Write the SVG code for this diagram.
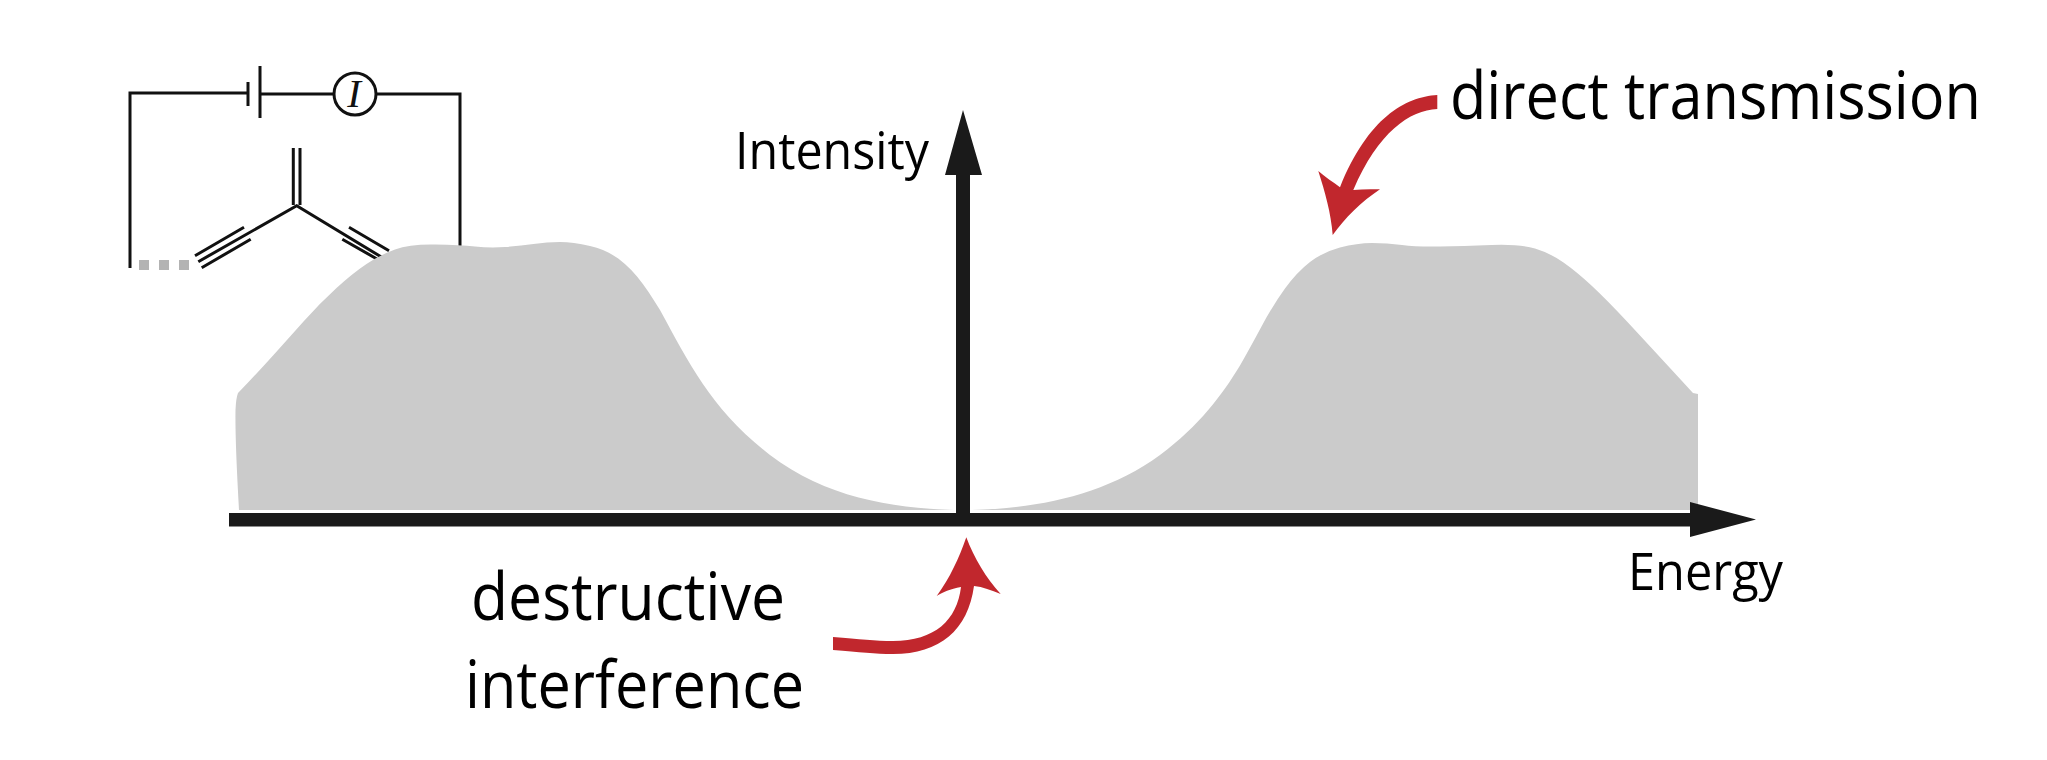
<svg xmlns="http://www.w3.org/2000/svg" width="2047" height="760" viewBox="0 0 2047 760">
<style>
.t{font-family:"Open Sans","Noto Sans",sans-serif;fill:#000}
.big{font-size:65px}
.small{font-size:51px}
.w{fill:none;stroke:#111;stroke-width:3}
.g{fill:#cbcbcb}
.r{fill:#c1272d}
.k{fill:#1a1a1a}
</style>
<rect width="2047" height="760" fill="#fff"/>
<g id="circuit">
<path class="w" d="M130 268V93H248M248 82V106M260 66V118M261 94H334M376 94H460V250"/>
<circle class="w" cx="355" cy="94" r="21"/>
<text x="354" y="107" text-anchor="middle" style="font-family:'Liberation Serif',serif;font-style:italic;font-size:41px;fill:#111">I</text>
<path fill="#b3b3b3" d="M139 260h10v10h-10zM159 260h10v10h-10zM179 260h10v10h-10z"/>
<path class="w" d="M195 255.700L244 227.300M201.700 267.700L250.700 239.300M198.300 261.700L296.700 205.700L383 258M349 227.300L389 250.700M342.300 239.300L377 259M293.300 148V205M300 148V205"/>
</g>
<g id="peak-left">
<path class="g" d="M238 393L249 381.500Q260 370 273.500 355Q287 340 303.500 321.500Q320 303 336.500 288Q353 273 366.500 264Q380 255 395 249.500Q410 244 435 244.500Q460 245 475 246.500Q490 248 505 247Q520 246 533.500 244Q547 242 560 242Q573 242 590 246C622 253 640 277 660 310C690 365 712 410 770 455C825 497 890 508 954 510H239Q235 440 235.500 410Q236 398 238 393Z"/>
</g>
<g id="peak-right">
<path class="g" d="M972 510C1040 508 1105 495 1160 455C1200 425 1222 395 1240 365.500Q1250 348 1261.500 326.500Q1273 305 1285 288.500Q1297 272 1310 262Q1323 252 1340 247.500Q1357 243 1372 243Q1387 243 1402 245Q1417 247 1440 246.500Q1463 246 1491.500 245Q1520 244 1535 248.500Q1550 253 1563.500 262.500Q1577 272 1592 286Q1607 300 1627 321.500Q1647 343 1693 393L1698 394V510Z"/>
</g>
<g id="connectors">
<path class="k" d="M229 513H1690V502L1756 519.500L1690 537V526.500H229Z"/>
<path class="k" d="M956 513V175H945L963 110L982 175H970V513Z"/>
<path class="r" d="M833 637C860 639 875 641 893 641C935 641 957 620 961 587C950 589 943 592 936.700 596C950 578 959 558 966.300 537.300C974 558 986 578 1000.700 594C991 590 983 587 974 586C968 630 940 654 893 654C875 654 860 652 833 650Z"/>
<path class="r" d="M1437.300 95C1405 97 1368 118 1340 187.300C1333 182 1325 177 1318.300 171C1325 192 1331 213 1332.700 235C1345 218 1361 202 1380 189.300C1371 189 1362 189 1353.300 190C1378 132 1410 110 1437.300 109Z"/>
</g>
<g id="labels">
<text class="t big" x="1450" y="118.500" textLength="531" lengthAdjust="spacingAndGlyphs">direct transmission</text>
<text class="t small" x="735" y="169" textLength="194" lengthAdjust="spacingAndGlyphs">Intensity</text>
<text class="t small" x="1628" y="590" textLength="155" lengthAdjust="spacingAndGlyphs">Energy</text>
<text class="t big" x="471" y="620" textLength="314" lengthAdjust="spacingAndGlyphs">destructive</text>
<text class="t big" x="465" y="708" textLength="339" lengthAdjust="spacingAndGlyphs">interference</text>
</g>
</svg>
